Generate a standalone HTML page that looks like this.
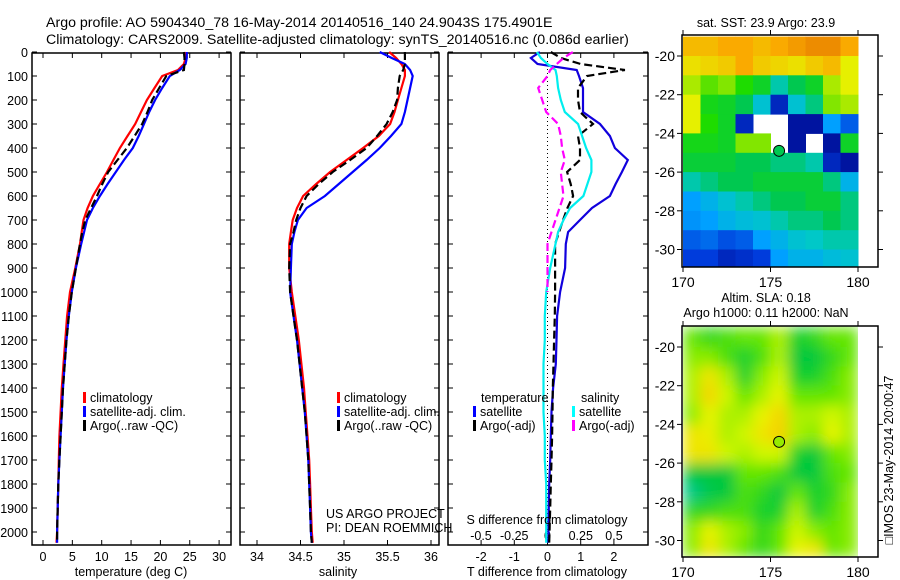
<!DOCTYPE html>
<html><head><meta charset="utf-8"><style>
body{margin:0;background:#fff;}
svg{display:block;font-family:"Liberation Sans",sans-serif;}
</style></head><body>
<svg id="c" width="900" height="580" viewBox="0 0 900 580">
<defs>
<filter id="blur" filterUnits="userSpaceOnUse" x="683" y="326" width="175" height="231"><feGaussianBlur stdDeviation="7" edgeMode="duplicate"/></filter>
<clipPath id="slaclip"><rect x="683" y="326" width="175" height="231"/></clipPath>
</defs>
<text x="46" y="27" font-size="14.2">Argo profile: AO 5904340_78 16-May-2014 20140516_140 24.9043S 175.4901E</text>
<text x="46" y="44" font-size="14.2">Climatology: CARS2009. Satellite-adjusted climatology: synTS_20140516.nc (0.086d earlier)</text>
<g id="g"></g>
</svg>
<script>
const depths = [0,25,50,75,100,150,200,250,300,350,400,450,500,550,600,650,700,750,800,900,1000,1100,1200,1300,1400,1500,1600,1700,1800,1900,2000,2045];
const tempClim = [24.4,24.3,24.0,23.0,20.3,19.0,17.7,16.7,15.7,14.4,13.1,12.0,10.9,9.7,8.5,7.6,6.9,6.6,6.3,5.5,4.6,4.1,3.8,3.5,3.2,3.0,2.8,2.7,2.6,2.5,2.4,2.3];
const tempSat = [24.5,24.5,24.3,23.3,21.6,20.3,19.1,18.1,17.2,16.3,15.3,13.8,12.4,11.0,9.7,8.5,7.5,7.0,6.5,5.6,4.9,4.4,4.0,3.7,3.4,3.2,3.0,2.8,2.6,2.5,2.4,2.4];
const tempArgo = [24.0,24.1,24.1,24.0,21.0,19.8,18.6,17.8,16.9,15.6,14.3,12.7,11.1,10.1,9.2,8.2,7.2,6.7,6.3,5.6,4.9,4.4,4.0,3.7,3.4,3.2,3.0,2.8,2.6,2.5,2.4,2.4];
const salClim = [35.52,35.60,35.66,35.70,35.70,35.66,35.62,35.58,35.53,35.40,35.22,35.03,34.84,34.68,34.53,34.46,34.41,34.39,34.37,34.37,34.40,34.44,34.48,34.51,34.54,34.56,34.58,34.60,34.61,34.62,34.63,34.64];
const salSat = [35.41,35.55,35.70,35.76,35.79,35.76,35.73,35.70,35.66,35.54,35.41,35.26,35.10,34.94,34.78,34.57,34.47,34.43,34.40,34.39,34.38,34.42,34.46,34.49,34.52,34.55,34.57,34.59,34.60,34.61,34.62,34.63];
const salArgo = [35.70,35.70,35.70,35.68,35.64,35.62,35.61,35.56,35.49,35.38,35.26,35.07,34.87,34.71,34.57,34.50,34.45,34.42,34.38,34.37,34.38,34.42,34.46,34.49,34.52,34.55,34.57,34.59,34.60,34.61,34.62,34.63];
const dTsat = [-0.23,-0.5,-0.3,0.88,0.95,1.07,1.07,1.07,1.58,1.88,2.03,2.42,2.24,2.05,1.88,1.34,0.98,0.62,0.55,0.53,0.38,0.29,0.27,0.25,0.17,0.12,0.1,0.08,0.05,0.04,0.03,0.02];
const dTargo = [0.1,0.4,1.0,2.33,1.19,0.92,0.92,0.98,1.37,0.92,0.98,0.98,0.59,0.7,0.77,0.6,0.47,0.35,0.23,0.23,0.23,0.22,0.2,0.18,0.16,0.15,0.14,0.12,0.1,0.08,0.06,0.05];
const dSsat = [-0.08,-0.05,0.0,0.06,0.07,0.08,0.1,0.13,0.23,0.26,0.29,0.33,0.33,0.3,0.27,0.17,0.12,0.08,0.06,0.02,-0.01,-0.02,-0.02,-0.03,-0.03,-0.03,-0.02,-0.02,-0.01,-0.01,-0.01,-0.01];
const dSargo = [0.19,0.12,0.07,0.02,0.0,-0.07,-0.04,-0.01,0.08,0.1,0.11,0.13,0.1,0.11,0.12,0.09,0.06,0.03,0.0,0.0,0.0];
const depthTicks = [0,100,200,300,400,500,600,700,800,900,1000,1100,1200,1300,1400,1500,1600,1700,1800,1900,2000];
const tempTicks = [0,5,10,15,20,25,30];
const salTicks = [34,34.5,35,35.5,36];
const dTTicks = [-2,-1,0,1,2];
const dSTicks = [-0.5,-0.25,0,0.25,0.5];
const N = null;
const sstGrid = [
[.85,.85,.88,.88,.85,.88,.9,.92,.92,.88],
[.78,.8,.82,.88,.82,.8,.78,.82,.85,.75],
[.72,.68,.7,.65,.6,.45,.55,.6,.72,.75],
[.75,.62,.6,.55,.4,.1,.4,.5,.7,.72],
[.75,.65,.6,.1,N,N,.05,.05,.3,.2],
[.62,.62,.6,.7,.7,N,.05,N,.05,.6],
[.58,.58,.58,.55,.55,.5,.5,.45,.1,.05],
[.45,.5,.55,.55,.58,.58,.58,.58,.5,.35],
[.3,.35,.4,.45,.5,.55,.55,.58,.58,.5],
[.28,.3,.35,.38,.4,.45,.5,.5,.55,.5],
[.2,.22,.18,.2,.3,.35,.4,.42,.45,.45],
[.15,.15,.1,.12,.15,.3,.35,.35,.38,.4]];
const slaGrid = [
[.5,.4,.45,.5,.5,.6,.35,.4,.5,.5],
[.55,.55,.45,.35,.45,.6,.3,.3,.4,.5],
[.6,.75,.6,.35,.55,.65,.35,.35,.45,.55],
[.6,.8,.65,.5,.6,.7,.5,.5,.5,.55],
[.55,.7,.6,.6,.7,.8,.6,.6,.65,.6],
[.75,.72,.6,.65,.75,.82,.6,.55,.7,.6],
[.75,.75,.65,.6,.65,.65,.35,.3,.5,.55],
[.3,.3,.3,.5,.5,.45,.3,.3,.45,.5],
[.1,.25,.3,.45,.4,.3,.5,.35,.4,.55],
[.4,.4,.45,.45,.35,.35,.6,.35,.45,.55],
[.55,.7,.6,.55,.4,.5,.65,.55,.5,.55],
[.55,.75,.6,.5,.4,.5,.7,.75,.5,.55]];
const lonTicks = [170,175,180];
const latTicks = [-20,-22,-24,-26,-28,-30];
const floatPos = [175.49,-24.90];

{
const NS='http://www.w3.org/2000/svg';
const G=document.getElementById('g');
function mk(tag,attrs,parent){const e=document.createElementNS(NS,tag);for(const k in attrs)e.setAttribute(k,attrs[k]);(parent||G).appendChild(e);return e;}
function txt(x,y,s,size,anchor,parent){const t=mk('text',{x:x,y:y,'font-size':size||12.5,'text-anchor':anchor||'start'},parent);t.textContent=s;return t;}

const pTop=53,pBot=545;
const yD=d=>52+d*0.24;
function panel(name,x0,x1,xs,ticks,fmt){
  const r=mk('rect',{x:x0,y:pTop,width:x1-x0,height:pBot-pTop,fill:'none',stroke:'#000','stroke-width':1.5});
  
  
  depthTicks.forEach(d=>{mk('line',{x1:x0,x2:x0+5,y1:yD(d),y2:yD(d),stroke:'#000'});mk('line',{x1:x1-5,x2:x1,y1:yD(d),y2:yD(d),stroke:'#000'});});
  ticks.forEach(v=>{const x=xs(v);mk('line',{x1:x,x2:x,y1:pTop,y2:pTop+5,stroke:'#000'});mk('line',{x1:x,x2:x,y1:pBot-5,y2:pBot,stroke:'#000'});
    if(fmt){const t=txt(x,561,fmt(v),12.5,'middle');}});
}
function line(name,xs,vals,color,dash){
  const pts=vals.map((v,i)=>xs(v).toFixed(1)+','+yD(depths[i]).toFixed(1)).join(' ');
  const p=mk('polyline',{points:pts,fill:'none',stroke:color,'stroke-width':2.2});
  if(dash)p.setAttribute('stroke-dasharray','8,4');
  
  
}
const xT=v=>43+v*5.87, xS=v=>257+(v-34)*87, xdT=v=>547.5+v*33.2, xdS=v=>547.5+v*133;
panel('temperature-panel',32,231,xT,tempTicks,v=>String(v));
panel('salinity-panel',240,439,xS,salTicks,v=>String(v));
panel('difference-panel',448,648,xdT,dTTicks,v=>String(v));
depthTicks.forEach(d=>{const t=txt(28,yD(d)+5,String(d),12.5,'end');});
dSTicks.forEach(v=>{const t=txt(xdS(v),540,String(v),12.5,'middle');});
mk('line',{x1:xdT(0),x2:xdT(0),y1:pTop,y2:pBot,stroke:'#000','stroke-dasharray':'1,3'});
line('temp-clim-line',xT,tempClim,'#f00');line('temp-sat-line',xT,tempSat,'#00f');line('temp-argo-line',xT,tempArgo,'#000',1);
line('sal-clim-line',xS,salClim,'#f00');line('sal-sat-line',xS,salSat,'#00f');line('sal-argo-line',xS,salArgo,'#000',1);
line('dt-sat-line',xdT,dTsat,'#10d');line('dt-argo-line',xdT,dTargo,'#000',1);
line('ds-sat-line',xdS,dSsat,'#0ee');line('ds-argo-line',xdS,dSargo,'#f0f',1);
function leg(x,y,c,s,name){const r=mk('rect',{x:x,y:y-6,width:3,height:11,fill:c});const t=txt(x+7,y+4,s,12.5);}
leg(83,398,'#f00','climatology','legend-climatology');leg(83,412,'#00f','satellite-adj. clim.','legend-satellite');leg(83,426,'#000','Argo(..raw -QC)','legend-argo');
leg(337,398,'#f00','climatology','legend-climatology-2');leg(337,412,'#00f','satellite-adj. clim.','legend-satellite-2');leg(337,426,'#000','Argo(..raw -QC)','legend-argo-2');
txt(481,402,'temperature',12.5);txt(581,402,'salinity',12.5);
leg(473,412,'#00f','satellite','legend-t-sat');leg(473,426,'#000','Argo(-adj)','legend-t-argo');
leg(572,412,'#0ff','satellite','legend-s-sat');leg(572,426,'#f0f','Argo(-adj)','legend-s-argo');
txt(326,518,'US ARGO PROJECT',12.5);txt(326,532,'PI: DEAN ROEMMICH',12.5);
txt(547,524,'S difference from climatology',12.5,'middle');
txt(131,576,'temperature (deg C)',12.5,'middle');txt(338,576,'salinity',12.5,'middle');txt(547,576,'T difference from climatology',12.5,'middle');

function interp(st,v){for(let i=1;i<st.length;i++){if(v<=st[i][0]){const a=st[i-1],b=st[i],f=(v-a[0])/(b[0]-a[0]);return 'rgb('+a[1].map((c,k)=>Math.round(c+(b[1][k]-c)*f)).join(',')+')';}}const l=st[st.length-1][1];return 'rgb('+l.join(',')+')';}
const jetSt=[[0,[0,0,130]],[.15,[0,60,220]],[.3,[0,160,255]],[.42,[0,200,200]],[.55,[0,200,80]],[.65,[30,220,0]],[.75,[230,240,0]],[.88,[250,170,0]],[1,[210,80,0]]];
const slaSt=[[0,[0,200,170]],[.3,[0,200,60]],[.5,[100,230,0]],[.68,[230,250,0]],[.85,[250,200,0]],[1,[250,150,0]]];
const jet=v=>interp(jetSt,v), sla=v=>interp(slaSt,v);
function map(name,y0,y1,grid,cmap,smooth){
  const lx=v=>683+(v-170)*17.5;
  const ly=v=>(y0+21)+(-20-v)*19.35;
  let host=G;
  if(smooth){const outer=mk('g',{'clip-path':'url(#slaclip)'});host=mk('g',{filter:'url(#blur)'},outer);}
  grid.forEach((row,r)=>row.forEach((v,c)=>{if(v===null)return;
    const x=lx(170+c),y=ly(-19-r),w=lx(171+c)-x,h=ly(-20-r)-y;
    const yy=Math.max(y,y0),hh=Math.min(y+h,y1)-yy;
    const cell=mk('rect',{x:x.toFixed(1),y:yy.toFixed(1),width:(w+0.5).toFixed(1),height:(hh+0.5).toFixed(1),fill:cmap(v)},host);
    
    }));
  const fr=mk('rect',{x:682,y:y0,width:196,height:y1-y0,fill:'none',stroke:'#000','stroke-width':1.5});
  
  
  lonTicks.forEach(v=>{const x=lx(v);mk('line',{x1:x,x2:x,y1:y0-5,y2:y0,stroke:'#000'});mk('line',{x1:x,x2:x,y1:y1,y2:y1+5,stroke:'#000'});const t=txt(x,y1+20,String(v),14,'middle');});
  latTicks.forEach(v=>{const y=ly(v);mk('line',{x1:677,x2:682,y1:y,y2:y,stroke:'#000'});mk('line',{x1:878,x2:883,y1:y,y2:y,stroke:'#000'});const t=txt(675,y+5,String(v),14,'end');});
  const m=mk('circle',{cx:lx(floatPos[0]),cy:ly(floatPos[1]),r:5.5,fill:name==='sst-map'?'rgb(0,200,80)':'rgb(150,235,0)',stroke:'#000'});
  
  
}
map('sst-map',35,267,sstGrid,jet,false);
map('sla-map',326,557,slaGrid,sla,true);
txt(766,27,'sat. SST: 23.9 Argo: 23.9',12.5,'middle');
txt(766,302,'Altim. SLA: 0.18',12.5,'middle');
txt(766,317,'Argo h1000: 0.11 h2000: NaN',12.5,'middle');
const side=txt(0,0,'\u25A1IMOS 23-May-2014 20:00:47',12.5,'middle');
side.setAttribute('transform','translate(893,460) rotate(-90)');


}
</script>
</body></html>
